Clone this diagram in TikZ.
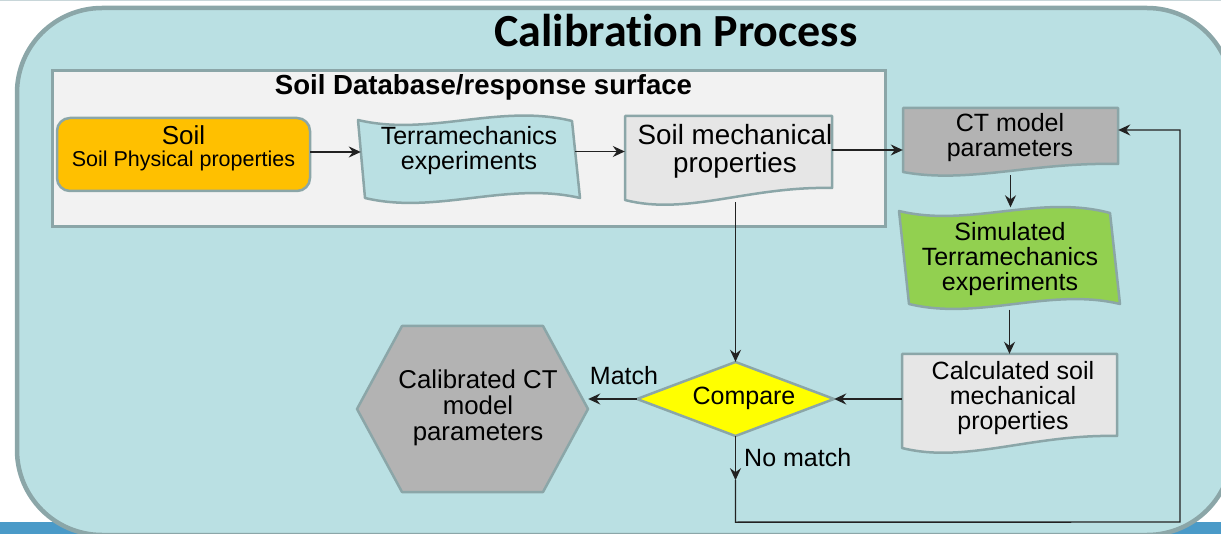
\documentclass[tikz,border=0pt]{standalone}
\usepackage{fontspec}
\setmainfont{Liberation Sans}
\newfontfamily\titlefont[Ligatures=NoCommon]{Carlito}
\usetikzlibrary{arrows.meta,calc}
\definecolor{bgfill}{HTML}{BAE0E3}
\definecolor{edgegray}{HTML}{8BA6A8}
\definecolor{dbfill}{HTML}{F2F2F2}
\definecolor{soilfill}{HTML}{FFC000}
\definecolor{docfill}{HTML}{E6E6E6}
\definecolor{ctfill}{HTML}{B3B3B3}
\definecolor{simfill}{HTML}{92D050}
\definecolor{cmpfill}{HTML}{FFFF00}
\definecolor{barblue}{HTML}{4A9AC8}
\definecolor{toplinecol}{HTML}{C8D6D9}
\definecolor{conncol}{HTML}{222222}
\newcommand\myfs[1]{\fontsize{#1}{#1}\selectfont}
\begin{document}
\begin{tikzpicture}[x=1pt,y=-1pt,
  shapeline/.style={draw=edgegray, line width=2.5pt, line join=round},
  geo/.style={draw=none, inner sep=0pt},
  lbl/.style={anchor=base, inner sep=0pt, font=\myfs{25}},
  biglbl/.style={anchor=base, inner sep=0pt, font=\myfs{27.8}},
  connline/.style={draw=conncol, line width=1.4pt},
  conn/.style={connline, -{Stealth[length=12pt,width=11pt,inset=4pt]}}]
\useasboundingbox (0,0) rectangle (1221,534);
\begin{scope}
\clip (0,0) rectangle (1221,534);
\fill[toplinecol] (0,0) rectangle (1221,1.5);
\fill[barblue] (0,521.5) rectangle (1221,534);
\draw[draw=edgegray, fill=bgfill, line width=4.5pt, rounded corners=85pt] (17,8) rectangle (1232,535);
\end{scope}

% title
\node[anchor=base, inner sep=0pt, font=\titlefont\bfseries\myfs{46}] (title) at (676,47) {Calibration Process};

% database box
\draw[draw=edgegray, fill=dbfill, line width=3pt] (52,71) rectangle (885,227);
\node[anchor=base, inner sep=0pt, font=\bfseries\myfs{27.6}] (dbtitle) at (483.5,95) {Soil Database/response surface};

% geometry nodes
\node[geo, minimum width=253pt, minimum height=73pt] (soil) at (183.5,152) {};
\node[geo, minimum width=214pt, minimum height=82pt] (terra) at (468,151.5) {};
\node[geo, minimum width=207pt, minimum height=104pt] (smp) at (728.5,150) {};
\node[geo, minimum width=215pt, minimum height=70pt] (ct) at (1010.5,140) {};
\node[geo, minimum width=221pt, minimum height=102pt] (sim) at (1009.5,258.5) {};
\node[geo, minimum width=215pt, minimum height=96pt] (calc) at (1009.5,402) {};
\node[geo, minimum width=197pt, minimum height=74pt] (cmp) at (735.5,399) {};
\node[geo, minimum width=231pt, minimum height=166pt] (hex) at (472.5,409) {};

% shapes
\draw[shapeline, fill=soilfill, rounded corners=13pt] (57,118) rectangle (310,191);
\draw[shapeline, fill=bgfill]
  (358,120) .. controls (429,137) and (500,103) .. (572,121)
  -- (580,198) .. controls (507,181) and (436,215) .. (365,198) -- cycle;
\draw[shapeline, fill=docfill]
  (625,116) -- (832,116) -- (832,188) .. controls (749,186) and (687,216) .. (625,200) -- cycle;
\draw[shapeline, fill=ctfill]
  (903,108) -- (1118,108) -- (1118,164) .. controls (1032,162) and (968,184) .. (903,172) -- cycle;
\draw[shapeline, fill=simfill]
  (899,211) .. controls (969,228) and (1039,194) .. (1110,213)
  -- (1120,304) .. controls (1050,287) and (979,321) .. (909,304) -- cycle;
\draw[shapeline, fill=docfill]
  (902,354) -- (1117,354) -- (1117,436) .. controls (1031,434) and (966,464) .. (902,448) -- cycle;
\draw[shapeline, fill=cmpfill] (637,399) -- (735.5,362) -- (834,399) -- (735.5,436) -- cycle;
\draw[shapeline, fill=ctfill] (357,409) -- (402,326) -- (543,326) -- (588,409) -- (543,492) -- (402,492) -- cycle;

% texts
\node[anchor=base, inner sep=0pt, font=\myfs{26}] (soilT1) at (183.5,145) {Soil};
\node[anchor=base, inner sep=0pt, font=\myfs{21.5}] (soilT2) at (183.5,167) {Soil Physical properties};
\node[lbl] (terraT1) at (469,145) {Terramechanics};
\node[lbl] (terraT2) at (469,170) {experiments};
\node[biglbl] (smpT1) at (735,145) {Soil mechanical};
\node[biglbl] (smpT2) at (735,173) {properties};
\node[lbl] (ctT1) at (1010,132) {CT model};
\node[lbl] (ctT2) at (1010,157) {parameters};
\node[lbl] (simT1) at (1010,241) {Simulated};
\node[lbl] (simT2) at (1010,266) {Terramechanics};
\node[lbl] (simT3) at (1010,291) {experiments};
\node[lbl] (calcT1) at (1013,380) {Calculated soil};
\node[lbl] (calcT2) at (1013,405) {mechanical};
\node[lbl] (calcT3) at (1013,430) {properties};
\node[lbl, font=\myfs{25.8}] (hexT1) at (478,389) {Calibrated CT};
\node[lbl, font=\myfs{25.8}] (hexT2) at (478,415) {model};
\node[lbl, font=\myfs{25.8}] (hexT3) at (478,440) {parameters};
\node[lbl] (cmpT) at (744,405) {Compare};
\node[lbl] (matchT) at (624,385) {Match};
\node[lbl, anchor=base west] (nomatchT) at (744,466) {No match};

% connectors
\draw[conn] (soil.east) -- (soil.east -| terra.west);
\draw[conn] (terra.east) -- (terra.east -| smp.west);
\draw[conn] (smp.east) -- (smp.east -| ct.west);
\draw[conn] (ct.south) -- (ct.south |- sim.north);
\draw[conn] (sim.south) -- (sim.south |- calc.north);
\draw[conn] (calc.west |- cmp.east) -- (cmp.east);
\draw[conn] (cmp.north |- smp.south) -- (cmp.north);
\draw[conn] (cmp.west) -- (cmp.west -| hex.east);
\coordinate (nm1) at ($(cmp.south)+(0,44)$);
\coordinate (nm2) at ($(cmp.south)+(0,86)$);
\coordinate (nm3) at (1180,522);
\draw[conn] (cmp.south) -- (nm1);
\draw[conn] (nm1) -- (nm2) -- (nm3) |- ([yshift=10pt]ct.east);
\end{tikzpicture}
\end{document}
